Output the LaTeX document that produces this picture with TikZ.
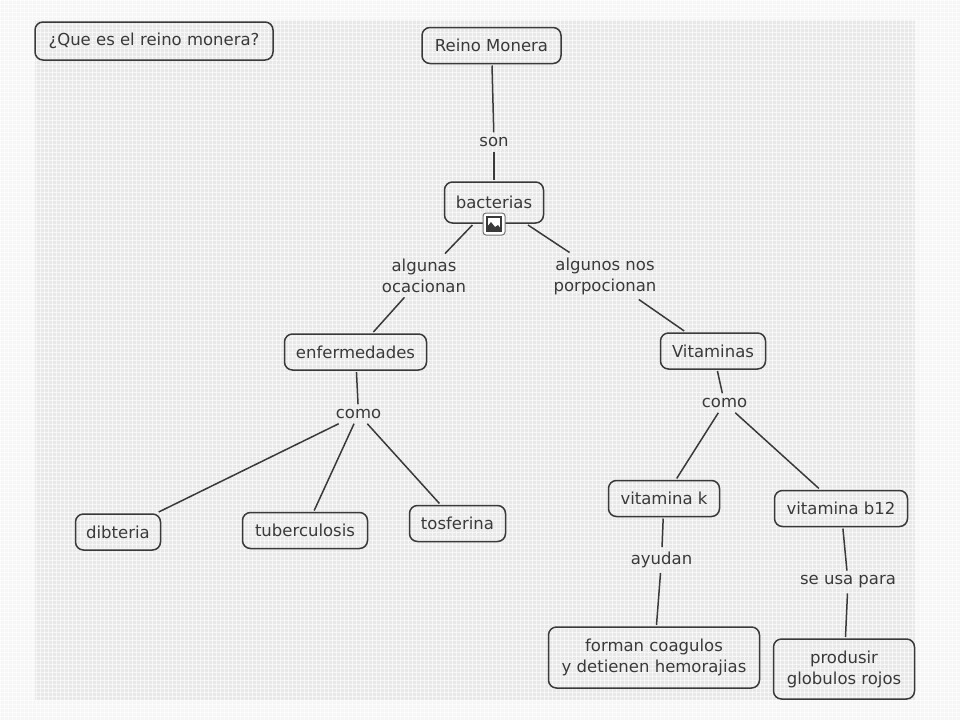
\documentclass[tikz,border=0pt]{standalone}
\usepackage{fontspec}
\setmainfont{DejaVu Sans}
\usepackage{xcolor}
\usetikzlibrary{positioning}
\definecolor{paperout}{RGB}{246,246,246}
\definecolor{paperin}{RGB}{232,232,232}
\definecolor{weave}{RGB}{255,255,255}
\definecolor{ink}{RGB}{58,58,58}
\tikzset{
    concept/.style={
        rectangle,
        rounded corners=8pt,
        line width=1.5pt,
        draw=ink,
        text=ink,
        align=center,
        minimum height=36pt,
        inner xsep=2pt,
        inner ysep=3pt,
        outer sep=2pt,
        font=\fontsize{16.5}{21}\selectfont,
    },
    linkword/.style={
        text=ink,
        align=center,
        inner sep=5pt,
        outer sep=0pt,
        font=\fontsize{16.5}{21}\selectfont,
    },
    link/.style={
        line width=1.5pt,
        draw=ink,
    },
}
\begin{document}
\begin{tikzpicture}[x=1pt, y=-1pt, on grid, node distance=60pt]
      \useasboundingbox (0,0) rectangle (960,720);
      \fill[paperout] (0,0) rectangle (960,720);
      \fill[paperin] (35,20) rectangle (915,700);
      % canvas weave
      \foreach \i in {0,4,...,960} {
        \draw[weave, opacity=.6, line width=1pt] (\i,0) -- (\i,720);
      }
      \foreach \j in {0,4,...,720} {
        \draw[weave, opacity=.6, line width=1pt] (0,\j) -- (960,\j);
      }

      \node[concept, minimum width=238pt, minimum height=38pt, text height=13pt, text depth=4pt] at (154,41) (pregunta) {¿Que es el reino monera?};

      \node[concept, minimum width=139pt] at (491.5,45.5) (reino) {Reino Monera};
      \node[linkword, below right=96.5pt and 2.5pt of reino] (son) {son};
      \node[concept, minimum width=99pt, minimum height=41pt, below=60.5pt of son] (bacterias) {bacterias};

      \node[linkword, below left=73pt and 70pt of bacterias] (algunas) {algunas\\ocacionan};
      \node[linkword, below right=73.5pt and 111pt of bacterias] (algunos) {algunos nos\\porpocionan};
      \node[concept, minimum width=142pt, below left=76.5pt and 68.5pt of algunas] (enfermedades) {enfermedades};
      \node[concept, minimum width=105pt, below right=75pt and 108pt of algunos] (vitaminas) {Vitaminas};

      \node[linkword, below right=62pt and 3pt of enfermedades] (como1) {como};
      \node[linkword, below right=52pt and 11.5pt of vitaminas] (como2) {como};

      \node[concept, minimum width=85pt, below left=118pt and 240.5pt of como1] (dibteria) {dibteria};
      \node[concept, minimum width=125pt, below left=116.5pt and 53.5pt of como1] (tuberculosis) {tuberculosis};
      \node[concept, minimum width=96pt, below right=109.5pt and 99pt of como1] (tosferina) {tosferina};

      \node[concept, minimum width=111pt, below left=95.5pt and 60.5pt of como2] (vitk) {vitamina k};
      \node[concept, minimum width=133pt, below right=105.5pt and 116.5pt of como2] (vitb) {vitamina b12};

      \node[linkword, below left=61.5pt and 2.5pt of vitk] (ayudan) {ayudan};
      \node[linkword, below right=73.5pt and 7pt of vitb] (usa) {se usa para};
      \node[concept, minimum width=211pt, minimum height=61pt, below left=97.5pt and 7.5pt of ayudan] (forman) {forman coagulos\\y detienen hemorajias};
      \node[concept, minimum width=141pt, minimum height=60pt, below left=87pt and 4pt of usa] (produsir) {produsir\\globulos rojos};

      \draw[link] (reino) -- (son);
      \draw[link] (son) -- (bacterias);
      \draw[link] (bacterias) -- (algunas);
      \draw[link] (bacterias) -- (algunos);
      \draw[link] (algunas) -- (enfermedades);
      \draw[link] (algunos) -- (vitaminas);
      \draw[link] (enfermedades) -- (como1);
      \draw[link] (vitaminas) -- (como2);
      \draw[link] (como1) -- (dibteria);
      \draw[link] (como1) -- (tuberculosis);
      \draw[link] (como1) -- (tosferina);
      \draw[link] (como2) -- (vitk);
      \draw[link] (como2) -- (vitb);
      \draw[link] (vitk) -- (ayudan);
      \draw[link] (ayudan) -- (forman);
      \draw[link] (vitb) -- (usa);
      \draw[link] (usa) -- (produsir);

      % image icon on bacterias
      \node[rectangle, rounded corners=3pt, draw=ink!70, line width=1pt, fill=white, minimum size=22pt, inner sep=0pt] at (494,224) (icono) {};
      \draw[ink, line width=1.2pt, fill=white] (487,217) rectangle (501,231);
      \fill[ink] (487,231) -- (487,227) -- (491,222) -- (495,227) -- (498,225) -- (501,229) -- (501,231) -- cycle;
    \end{tikzpicture}
\end{document}
